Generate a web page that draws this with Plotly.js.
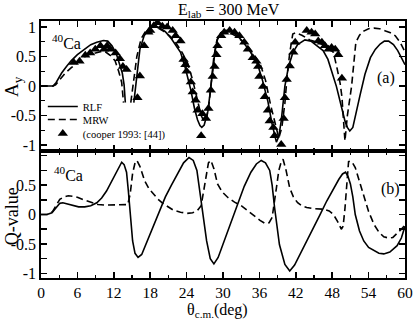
<!DOCTYPE html>
<html>
<head>
<meta charset="utf-8">
<script src="https://cdn.plot.ly/plotly-3.0.1.min.js"></script>
<style>
html,body{margin:0;padding:0;background:#fff;}
#chart{width:415px;height:319px;}
</style>
</head>
<body>
<div id="chart"></div>
<script>
// ---- Data (theta c.m. in degrees) ----
// Top panel: analyzing power A_y
const rlfAyTheta = [0,1,2,2.5,3.4,4.2,5,6,7.2,8.2,9.2,10.3,11,11.7,12.4,13,13.4,13.7,13.9,null,
  15.3,15.7,16.3,17,17.7,18.4,19,19.6,20.5,21.5,22.3,23,23.8,24.7,25.3,25.8,26.2,26.5,26.9,27.5,27.9,28.3,28.7,29.1,29.7,30.5,
  31.5,32.5,33.5,34.5,35.7,36.5,37.4,38.1,38.8,39.2,39.6,40.2,40.8,41.5,42.3,43.5,44.5,45.5,46.5,47.3,48,48.7,49.4,50.1,50.5,50.9,
  51.4,52,52.6,53.4,54.3,55.1,55.9,56.6,57.3,58.1,58.8,59.4,60];
const rlfAy = [0,0,0,0.06,0.22,0.33,0.43,0.53,0.63,0.70,0.74,0.77,0.76,0.68,0.55,0.37,0.22,0.02,-0.28,null,
  -0.28,0.1,0.62,0.85,0.96,1.0,1.01,0.98,0.92,0.8,0.68,0.57,0.3,-0.07,-0.38,-0.57,-0.67,-0.70,-0.66,-0.43,-0.1,0.3,0.6,0.79,0.9,0.94,
  0.92,0.84,0.72,0.58,0.37,0.1,-0.26,-0.65,-0.95,-0.85,-0.59,0.0,0.33,0.56,0.7,0.78,0.76,0.68,0.6,0.45,0.22,-0.01,-0.3,-0.59,-0.7,-0.76,
  -0.7,-0.45,-0.15,0.2,0.48,0.62,0.71,0.76,0.76,0.7,0.6,0.48,0.36];

const mrwAyTheta = [0,1,2,2.4,3,4,5,6,7,7.8,8.8,9.8,10.6,11.4,12.2,12.8,13.3,13.6,null,
  14.8,15.2,15.8,16.5,17.2,17.8,18.5,19.3,20.3,21.3,22.3,23.3,24.2,25,25.8,26.4,26.9,27.3,27.7,28.1,28.5,29,29.6,30.3,31.2,
  32.2,33.2,34.2,35.2,36.2,37,37.8,38.5,39.2,39.7,40.2,40.6,41,41.5,42,43,44.3,45.5,46.5,47.5,48.2,48.8,49.3,49.6,49.9,50.1,
  50.5,51.2,51.9,52.5,53.2,54,54.9,55.8,56.8,57.6,58.4,59.2,60];
const mrwAy = [0,0,0,0.02,0.1,0.22,0.31,0.4,0.48,0.53,0.56,0.58,0.58,0.52,0.43,0.25,0.06,-0.28,null,
  -0.28,0.05,0.5,0.8,0.92,0.98,1.0,0.98,0.92,0.84,0.72,0.56,0.38,0.1,-0.25,-0.5,-0.6,-0.55,-0.3,0.1,0.5,0.78,0.9,0.92,0.9,
  0.84,0.76,0.65,0.52,0.35,0.1,-0.3,-0.6,-0.88,-0.7,-0.29,0.2,0.56,0.88,0.9,0.86,0.78,0.74,0.7,0.64,0.57,0.3,0.05,-0.18,-0.6,-0.93,
  -0.5,0.0,0.74,0.86,0.93,0.97,0.98,0.97,0.93,0.9,0.85,0.74,0.58];

// Experimental points (Cooper 1993)
const expTheta = [5.4,6.35,7.3,8.1,8.95,9.8,10.4,10.9,11.4,12.3,13.0,13.5,14.1,15.9,16.3,17.0,17.7,18.0,18.6,19.2,20.0,20.8,21.7,22.2,
  23.0,23.5,23.8,24.0,24.7,25.0,25.5,25.8,26.4,26.6,27.2,27.6,28.0,28.3,28.6,28.9,29.1,29.7,30.2,31.1,31.9,32.7,33.5,34.1,34.9,
  35.5,35.8,36.0,36.6,36.9,37.4,37.7,38.3,38.5,39.6,40.0,40.2,40.5,41.0,41.6,41.9,43.8,44.6,45.2,45.7,46.3,46.8,47.4,47.9,48.5,49.0,49.6];
const expAy = [0.40,0.42,0.52,0.56,0.62,0.68,0.62,0.68,0.62,0.56,0.46,0.33,0.28,-0.2,0.17,0.68,0.91,0.94,1.02,1.07,1.01,1.0,0.94,0.85,
  0.76,0.45,0.36,0.25,0.07,-0.1,-0.24,-0.41,-0.84,-0.47,-0.55,-0.38,-0.07,0.16,0.33,0.53,0.68,0.85,0.91,0.94,0.91,0.85,0.74,0.62,0.48,
  0.42,0.33,0.16,-0.01,-0.18,-0.41,-0.59,-0.70,-0.84,-0.99,-0.55,-0.2,0.11,0.34,0.57,0.74,0.94,0.91,0.88,0.76,0.74,0.68,0.62,0.65,0.62,0.53,0.13];

// Bottom panel: Q-value
const rlfQTheta = [0,1,1.8,2.4,3.1,3.6,4.3,5.2,6.2,7.2,8.2,9.2,10,10.8,11.6,12.3,12.9,13.3,13.7,14.1,14.4,14.7,15.1,15.5,16,16.6,
  17.5,18.5,19.5,20.5,21.5,22.5,23.5,24.4,25.1,25.7,26.2,26.7,27.3,27.9,28.5,29.2,30.2,31.3,32.4,33.5,34.6,35.5,36.3,37,37.7,38.1,
  38.5,39.3,40.2,41,41.8,42.7,43.8,44.9,46,47.1,48.1,49.1,49.7,50.2,50.6,51,51.4,51.8,52.5,53.2,54,54.9,55.7,56.5,57.5,58.7,59.4,60];
const rlfQ = [0,0,0.03,0.1,0.19,0.2,0.18,0.15,0.13,0.13,0.15,0.2,0.28,0.4,0.56,0.7,0.83,0.89,0.85,0.72,0.4,0.0,-0.45,-0.66,-0.73,-0.68,
  -0.45,-0.2,0.05,0.3,0.5,0.7,0.88,0.97,0.92,0.75,0.4,0.0,-0.45,-0.75,-0.84,-0.73,-0.45,-0.12,0.2,0.48,0.72,0.86,0.92,0.88,0.75,0.5,
  0.12,-0.51,-0.85,-0.96,-0.86,-0.68,-0.45,-0.22,0.0,0.23,0.42,0.6,0.69,0.72,0.65,0.52,0.3,0.0,-0.28,-0.45,-0.56,-0.62,-0.66,-0.67,-0.64,-0.53,-0.4,-0.2];

const mrwQTheta = [0,1,1.9,2.6,3.1,3.8,4.5,5.3,6.1,7,7.8,8.6,9.4,10.5,11.5,12.5,13.5,14.3,14.7,15.1,15.5,15.8,16.3,17.1,17.8,18.5,
  19.3,20.2,21.9,23,24.1,25,25.8,26.4,26.8,27.2,27.6,28,28.5,29.1,29.9,30.8,31.9,33,34.1,35.2,36.1,36.9,37.6,38.1,38.5,38.8,39.2,
  39.6,39.9,40.4,41,41.6,42.3,43,43.8,45,46.6,47.5,48.2,48.9,49.5,49.8,50.1,50.4,50.7,51,51.4,51.8,52.5,53.2,54,54.9,55.7,56.5,
  57.3,58,58.9,59.5,60];
const mrwQ = [0,0,0.05,0.17,0.26,0.3,0.32,0.31,0.29,0.25,0.22,0.19,0.17,0.16,0.16,0.16,0.16,0.17,0.35,0.7,0.88,0.92,0.82,0.57,0.44,0.35,
  0.26,0.18,0.07,0.04,0.02,0.03,0.07,0.15,0.4,0.7,0.88,0.92,0.78,0.52,0.38,0.29,0.21,0.15,0.06,-0.02,-0.1,-0.15,-0.14,-0.05,0.2,0.45,0.75,
  0.9,0.94,0.75,0.45,0.3,0.2,0.15,0.12,0.1,0.09,0.06,0.0,-0.12,-0.25,-0.2,0.1,0.6,0.9,0.91,0.87,0.8,0.55,0.29,0.05,-0.17,-0.3,-0.38,
  -0.4,-0.39,-0.31,-0.24,-0.18];

const xTickVals = [0,6,12,18,24,30,36,42,48,54,60];
const xTickText = ['0','6','12','18','24','30','36','42','48','54','60'];
const yTickVals = [-1,-0.5,0,0.5,1];
const yTickTextTop = ['-1','-0.5','0','0.5','1'];
const yTickValsBottom = [-1,-0.5,0,0.5];
const yTickTextBottom = ['-1','-0.5','0','0.5'];

// ---- Styling ----
const FONT = 'Liberation Serif';
const lineW = 1.6;

const traces = [
  {x: rlfAyTheta, y: rlfAy, xaxis:'x2', yaxis:'y2', mode:'lines', name:'RLF', legend:'legend',
   line:{color:'#000', width:lineW}, connectgaps:false},
  {x: mrwAyTheta, y: mrwAy, xaxis:'x2', yaxis:'y2', mode:'lines', name:'MRW', legend:'legend2',
   line:{color:'#000', width:lineW, dash:'7px,4px'}, connectgaps:false},
  {x: expTheta, y: expAy, xaxis:'x2', yaxis:'y2', mode:'markers', name:'(cooper 1993: [44])', legend:'legend3',
   marker:{symbol:'triangle-up', size:9, color:'#000'}},
  {x: rlfQTheta, y: rlfQ, xaxis:'x', yaxis:'y', mode:'lines', name:'RLF', showlegend:false,
   line:{color:'#000', width:lineW}},
  {x: mrwQTheta, y: mrwQ, xaxis:'x', yaxis:'y', mode:'lines', name:'MRW', showlegend:false,
   line:{color:'#000', width:lineW, dash:'7px,4px'}}
];

const axisCommon = {
  showline:true, linecolor:'#000', linewidth:1.8, mirror:'allticks',
  ticks:'inside', ticklen:6, tickwidth:1.5, tickcolor:'#000',
  showgrid:false, zeroline:false,
  tickfont:{family:FONT, size:16, color:'#000'}
};
const minorX = {tickvals:[3,9,15,21,27,33,39,45,51,57], ticks:'inside', ticklen:3.5, tickwidth:1.2, tickcolor:'#000'};
const minorY = {tickvals:[-0.75,-0.25,0.25,0.75], ticks:'inside', ticklen:3.5, tickwidth:1.2, tickcolor:'#000'};
const legendCommon = {x:0.005, xanchor:'left', yanchor:'top', bgcolor:'rgba(0,0,0,0)',
  font:{family:FONT, size:10.5, color:'#000'}};

const layout = {
  width:415, height:319,
  margin:{l:41, r:10, t:21, b:41},
  paper_bgcolor:'#fff', plot_bgcolor:'#fff',
  font:{family:FONT, color:'#000'},
  showlegend:true,
  legend: Object.assign({}, legendCommon, {y:0.724}),
  legend2: Object.assign({}, legendCommon, {y:0.673}),
  legend3: Object.assign({}, legendCommon, {y:0.619}),
  xaxis: Object.assign({}, axisCommon, {
    domain:[0,1], anchor:'y', range:[0,60], tickmode:'array', tickvals:xTickVals, ticktext:xTickText, minor:minorX,
    tickfont:{family:FONT, size:15.5, color:'#000'}
  }),
  yaxis: Object.assign({}, axisCommon, {
    domain:[0,0.494], anchor:'x', range:[-1.08,1.08], tickmode:'array', tickvals:yTickValsBottom, ticktext:yTickTextBottom,
    minor:{tickvals:[-0.75,-0.25,0.25,0.75,1], ticks:'inside', ticklen:6, tickwidth:1.5, tickcolor:'#000'}
  }),
  xaxis2: Object.assign({}, axisCommon, {
    domain:[0,1], anchor:'y2', range:[0,60], tickmode:'array', tickvals:xTickVals, showticklabels:false, minor:minorX
  }),
  yaxis2: Object.assign({}, axisCommon, {
    domain:[0.494,1], anchor:'x2', range:[-1.1,1.1], tickmode:'array', tickvals:yTickVals, ticktext:yTickTextTop, minor:minorY
  }),
  annotations:[
    {text:'E<sub>lab</sub> = 300 MeV', xref:'paper', yref:'paper', x:0.516, y:1.04, xanchor:'center', yanchor:'middle',
     showarrow:false, font:{family:FONT, size:16, color:'#000'}},
    {text:'θ<sub>c.m.</sub>(deg)', xref:'paper', yref:'paper', x:0.486, y:-0.126, xanchor:'center', yanchor:'middle',
     showarrow:false, font:{family:FONT, size:16, color:'#000'}},
    {text:'A<sub>y</sub>', xref:'paper', yref:'paper', x:-0.077, y:0.747, textangle:-90, xanchor:'center', yanchor:'middle',
     showarrow:false, font:{family:FONT, size:19, color:'#000'}},
    {text:'Q-value', xref:'paper', yref:'paper', x:-0.079, y:0.241, textangle:-90, xanchor:'center', yanchor:'middle',
     showarrow:false, font:{family:FONT, size:18, color:'#000'}},
    {text:'<sup>40</sup>Ca', xref:'paper', yref:'paper', x:0.024, y:0.918, xanchor:'left', yanchor:'middle',
     showarrow:false, font:{family:FONT, size:16, color:'#000'}},
    {text:'<sup>40</sup>Ca', xref:'paper', yref:'paper', x:0.029, y:0.405, xanchor:'left', yanchor:'middle',
     showarrow:false, font:{family:FONT, size:16, color:'#000'}},
    {text:'(a)', xref:'paper', yref:'paper', x:0.948, y:0.778, xanchor:'center', yanchor:'middle',
     showarrow:false, font:{family:FONT, size:16, color:'#000'}},
    {text:'(b)', xref:'paper', yref:'paper', x:0.959, y:0.346, xanchor:'center', yanchor:'middle',
     showarrow:false, font:{family:FONT, size:16, color:'#000'}}
  ]
};

Plotly.newPlot('chart', traces, layout, {displayModeBar:false, staticPlot:true});
</script>
</body>
</html>
